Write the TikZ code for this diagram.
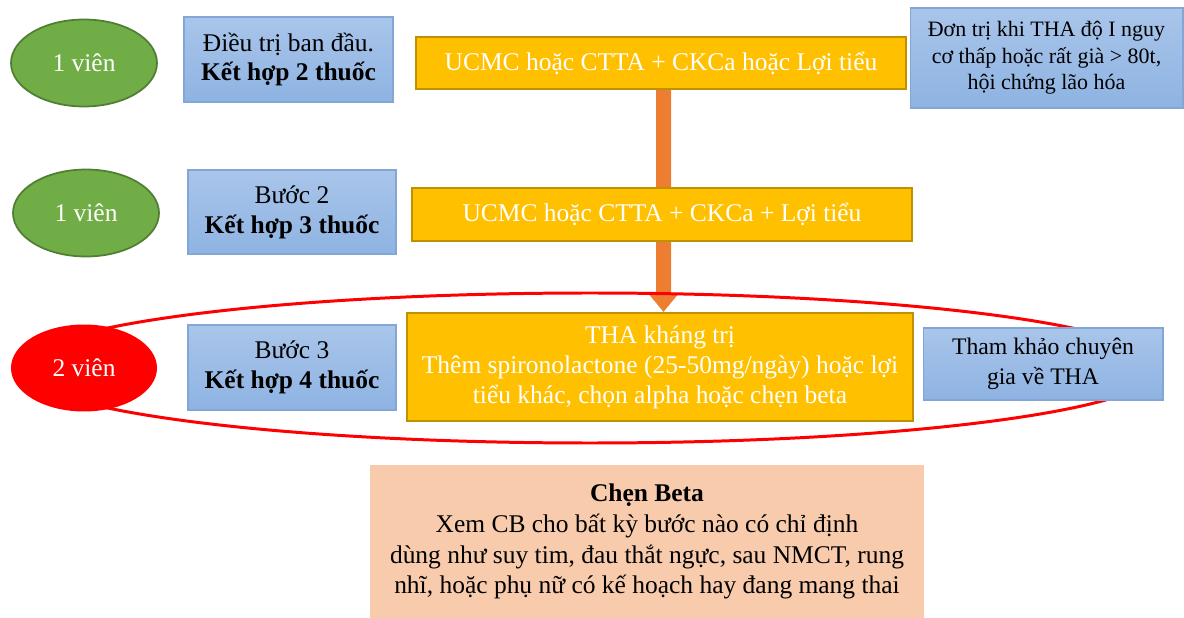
\documentclass[tikz,border=0pt]{standalone}
\usepackage{fontspec}
\setmainfont{Liberation Serif}
\usepackage{xcolor}
\usepackage{tikz}
\usetikzlibrary{arrows.meta,shapes.geometric}

\definecolor{pillgreen}{HTML}{70AD47}
\definecolor{pillgreenline}{HTML}{507E32}
\definecolor{stepblue}{HTML}{A9C5EA}
\definecolor{stepbluelow}{HTML}{8EB3E2}
\definecolor{stepblueline}{HTML}{82A7D6}
\definecolor{drugamber}{HTML}{FFC000}
\definecolor{drugamberline}{HTML}{BF9000}
\definecolor{flowarrow}{HTML}{ED7D31}
\definecolor{warnred}{HTML}{FF0000}
\definecolor{notepeach}{HTML}{F8CBAD}

\pgfdeclarelayer{bg}
\pgfsetlayers{bg,main}

\begin{document}
\begin{tikzpicture}[x=0.02cm,y=-0.02cm]
            \tikzstyle{every node}+=[inner sep=0pt, align=center, font=\fontsize{14.5}{17}\selectfont]
            \tikzstyle{pill}=[ellipse, minimum width=2.92cm, minimum height=1.74cm, text=white]
            \tikzstyle{stepbox}=[rectangle, top color=stepblue, bottom color=stepbluelow, draw=stepblueline, line width=0.6pt]
            \tikzstyle{drugbox}=[rectangle, fill=drugamber, draw=drugamberline, line width=1.2pt, text=white]
            \tikzstyle{flow}=[draw=flowarrow, line width=0.3cm, -{Triangle[width=0.6cm,length=0.38cm]}]
            \useasboundingbox (0,0) rectangle (1184,618);
            % pills
            \node (v1) at (84,63) [pill, fill=pillgreen, draw=pillgreenline, line width=1pt] {1 viên};
            \node (v2) at (86,213) [pill, fill=pillgreen, draw=pillgreenline, line width=1pt] {1 viên};
            \node (v3) at (84,368) [pill, fill=warnred] {2 viên};
            % steps
            \node (b1) at (288.5,59.5) [stepbox, minimum width=4.18cm, minimum height=1.70cm] {Điều trị ban đầu.\\\textbf{Kết hợp 2 thuốc}};
            \node (b2) at (292,212) [stepbox, minimum width=4.16cm, minimum height=1.68cm] {Bước 2\\\textbf{Kết hợp 3 thuốc}};
            \node (b3) at (292,367.5) [stepbox, minimum width=4.16cm, minimum height=1.70cm] {Bước 3\\\textbf{Kết hợp 4 thuốc}};
            % drugs
            \node (u1) at (661,63) [drugbox, minimum width=9.8cm, minimum height=1.04cm] {UCMC hoặc CTTA + CKCa hoặc Lợi tiểu};
            \node (u2) at (662,214.5) [drugbox, minimum width=10.0cm, minimum height=1.06cm] {UCMC hoặc CTTA + CKCa + Lợi tiểu};
            \node (u3) at (660,367) [drugbox, minimum width=10.12cm, minimum height=2.16cm] {THA kháng trị\\Thêm spironolactone (25-50mg/ngày) hoặc lợi\\tiểu khác, chọn alpha hoặc chẹn beta};
            % notes
            \node (n1) at (1046.5,58) [stepbox, minimum width=5.46cm, minimum height=2.0cm, font=\fontsize{12.5}{15}\selectfont] {Đơn trị khi THA độ I nguy\\cơ thấp hoặc rất già > 80t,\\hội chứng lão hóa};
            \node (n3) at (1043,364) [stepbox, minimum width=4.8cm, minimum height=1.44cm, font=\fontsize{13.5}{17}\selectfont] {Tham khảo chuyên\\gia về THA};
            \node (cb) at (647,541.5) [rectangle, fill=notepeach, minimum width=11.08cm, minimum height=3.06cm, font=\fontsize{14.5}{17.6}\selectfont] {\textbf{Chẹn Beta}\\Xem CB cho bất kỳ bước nào có chỉ định\\dùng như suy tim, đau thắt ngực, sau NMCT, rung\\nhĩ, hoặc phụ nữ có kế hoạch hay đang mang thai};
            \begin{pgfonlayer}{bg}
            \draw [flow] ([xshift=0.05cm]u1.south) -- ([xshift=0.07cm]u3.north);
            \draw [warnred, line width=1.7pt] (590,368) ellipse [x radius=570, y radius=75];
            \end{pgfonlayer}
        \end{tikzpicture}
\end{document}
